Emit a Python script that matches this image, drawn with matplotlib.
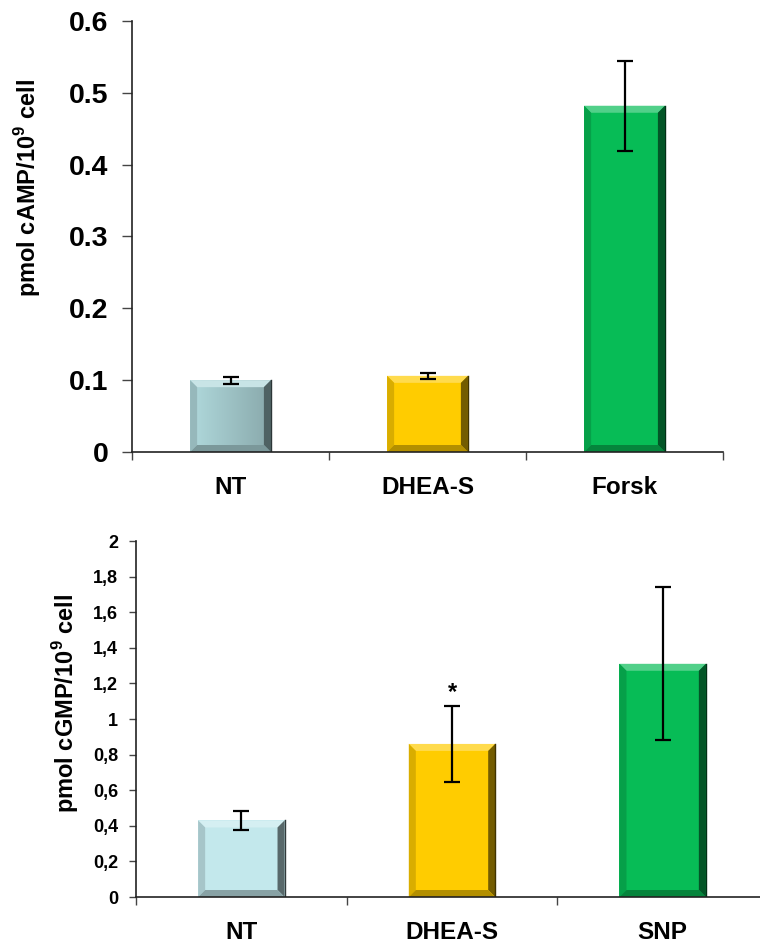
import numpy as np
import matplotlib
matplotlib.use("Agg")
import matplotlib.pyplot as plt
from matplotlib.patches import Polygon, Rectangle
from matplotlib.colors import to_rgb

plt.rcParams['font.family'] = ['Liberation Sans', 'DejaVu Sans']
plt.rcParams['font.weight'] = 'bold'
plt.rcParams['mathtext.fontset'] = 'custom'
plt.rcParams['mathtext.rm'] = 'Liberation Sans:bold'
plt.rcParams['mathtext.bf'] = 'Liberation Sans:bold'

# top panel: cAMP
camp_labels = ['NT', 'DHEA-S', 'Forsk']
camp_vals = [0.100, 0.106, 0.482]
camp_err = [0.005, 0.004, 0.063]
camp_ticks = [0, 0.1, 0.2, 0.3, 0.4, 0.5, 0.6]

# bottom panel: cGMP
cgmp_labels = ['NT', 'DHEA-S', 'SNP']
cgmp_vals = [0.43, 0.86, 1.31]
cgmp_err = [0.054, 0.213, 0.43]
cgmp_ticks = [0, 0.2, 0.4, 0.6, 0.8, 1.0, 1.2, 1.4, 1.6, 1.8, 2.0]
cgmp_star = [None, 1.085, None]

top_colors = ['#b0d9dc', '#ffcc00', '#07bc56']
bot_colors = ['#c3e8ec', '#ffcc00', '#07bc56']
top_shade = [0.22, 0, 0]
bot_shade = [0, 0, 0]


def mix(c, other, t):
    c = np.array(to_rgb(c))
    o = np.array(to_rgb(other))
    return tuple(c * (1 - t) + o * t)


def bevel_bar(ax, x, h, w, color, shade, bev_px=7):
    # bar with a bevelled look, like the office 3d bars
    fig = ax.figure
    bb = ax.get_position()
    W = bb.width * fig.get_figwidth() * fig.dpi
    H = bb.height * fig.get_figheight() * fig.dpi
    x0, x1 = ax.get_xlim()
    y0, y1 = ax.get_ylim()
    dx = bev_px * (x1 - x0) / W
    dy = bev_px * (y1 - y0) / H
    L, R = x - w / 2, x + w / 2
    B, T = 0, h
    rect = Rectangle((L, B), w, h, facecolor=color, edgecolor='none', zorder=2)
    ax.add_patch(rect)
    if shade > 0:
        # left-to-right darkening of the face
        grad = np.linspace(0, 1, 64)[None, :, None]
        dark = np.array(mix(color, 'black', shade))
        img = np.array(to_rgb(color)) * (1 - grad) + dark * grad
        im = ax.imshow(img, extent=(L, R, B, T), aspect='auto', zorder=2,
                       interpolation='bilinear')
        im.set_clip_path(rect)
    faces = [
        ([(L, T), (R, T), (R - dx, T - dy), (L + dx, T - dy)], mix(color, 'white', 0.3)),
        ([(L, B), (L, T), (L + dx, T - dy), (L + dx, B + dy)], mix(color, 'black', 0.15)),
        ([(R, B), (R, T), (R - dx, T - dy), (R - dx, B + dy)], mix(color, 'black', 0.55)),
        ([(L, B), (R, B), (R - dx, B + dy), (L + dx, B + dy)], mix(color, 'black', 0.3)),
    ]
    for pts, fc in faces:
        ax.add_patch(Polygon(pts, closed=True, facecolor=fc, edgecolor='none', zorder=2))
    ax.plot([R, R], [B, T], color=mix(color, 'black', 0.75), lw=1, zorder=2)


def setup(ax, labels, ylim, yticks, ytick_fmt, ysize, ypad, ylen):
    ax.set_xlim(-0.5, len(labels) - 0.5)
    ax.set_ylim(*ylim)
    for s in ['top', 'right']:
        ax.spines[s].set_visible(False)
    for s in ['left', 'bottom']:
        ax.spines[s].set_color('#222222')
        ax.spines[s].set_linewidth(1.2)
    ax.set_xticks(np.arange(len(labels) + 1) - 0.5)
    ax.set_xticklabels([])
    ax.tick_params(axis='x', which='major', length=6, width=1, color='#444444')
    ax.set_xticks(np.arange(len(labels)), minor=True)
    ax.set_xticklabels(labels, minor=True, fontsize=17.5, fontweight='bold')
    ax.tick_params(axis='x', which='minor', length=0, pad=17)
    ax.set_yticks(yticks)
    ax.set_yticklabels([ytick_fmt(v) for v in yticks], fontsize=ysize, fontweight='bold')
    ax.tick_params(axis='y', length=ylen, width=1, color='#444444', pad=ypad)


fig = plt.figure(figsize=(7.6, 9.47), dpi=100)
ax1 = fig.add_axes([132 / 760, 1 - 452 / 947, (723 - 132) / 760, (452 - 21) / 947])
ax2 = fig.add_axes([136 / 760, 1 - 897 / 947, (768 - 136) / 760, (897 - 541) / 947])

setup(ax1, camp_labels, (0, 0.6), camp_ticks, lambda v: '%g' % v, 20.5, 10, 7)
setup(ax2, cgmp_labels, (0, 2), cgmp_ticks,
      lambda v: ('%g' % v).replace('.', ','), 13, 8, 5)

for ax, vals, errs, cols, shades in [(ax1, camp_vals, camp_err, top_colors, top_shade),
                                     (ax2, cgmp_vals, cgmp_err, bot_colors, bot_shade)]:
    xs = np.arange(len(vals))
    for x, v, c, sh in zip(xs, vals, cols, shades):
        bevel_bar(ax, x, v, 0.41, c, sh)
    ax.errorbar(xs, vals, yerr=errs, fmt='none', ecolor='black',
                elinewidth=1.6, capsize=5.5, capthick=1.6, zorder=4)
    ax.set_xlim(-0.5, len(vals) - 0.5)

ax1.set_ylim(0, 0.6)
ax2.set_ylim(0, 2)

for x, s in enumerate(cgmp_star):
    if s is not None:
        ax2.text(x, s, '*', ha='center', va='bottom', fontsize=17, fontweight='bold')

fig.text(28 / 760, 1 - 188 / 947, r'pmol cAMP/10$^{9}$ cell', rotation=90,
         ha='center', va='center', fontsize=17, fontweight='bold')
fig.text(66 / 760, 1 - 703 / 947, r'pmol cGMP/10$^{9}$ cell', rotation=90,
         ha='center', va='center', fontsize=17, fontweight='bold')

fig.savefig('out.png', dpi=100)
